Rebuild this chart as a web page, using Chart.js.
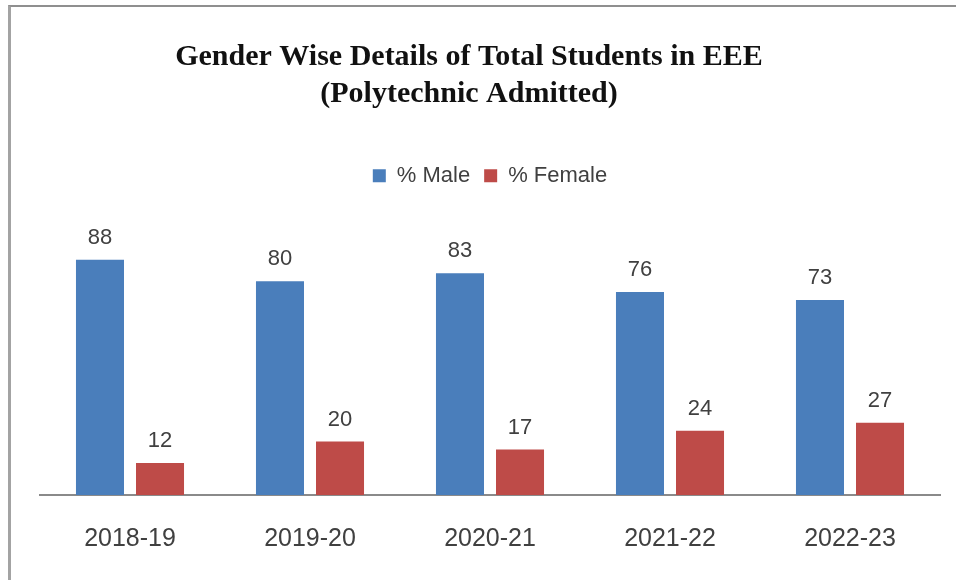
<!DOCTYPE html>
<html lang="en">
<head>
<meta charset="UTF-8">
<title>Gender Wise Details of Total Students in EEE</title>
<style>
  html, body { margin: 0; padding: 0; background: #fff; }
  .frame {
    position: relative;
    width: 956px;
    height: 580px;
  }
  .frame canvas { position: absolute; left: 0; top: 0; }
  .edge {
    position: absolute;
    left: 8px;
    top: 5px;
    right: 0;
    bottom: 0;
    border-top: 2px solid #8f8f8f;
    border-left: 3px solid #a3a3a3;
    pointer-events: none;
  }
</style>
</head>
<body>
<div class="frame">
  <canvas id="chart" width="956" height="580"></canvas>
  <div class="edge"></div>
</div>

<script src="https://cdn.jsdelivr.net/npm/chart.js"></script>
<script>
  const years = ['2018-19', '2019-20', '2020-21', '2021-22', '2022-23'];
  const malePct = [88, 80, 83, 76, 73];
  const femalePct = [12, 20, 17, 24, 27];

  // prints the value above each bar
  const valueLabels = {
    id: 'valueLabels',
    afterDatasetsDraw(chart) {
      const ctx = chart.ctx;
      ctx.save();
      ctx.font = '22px "Liberation Sans", Arial, sans-serif';
      ctx.fillStyle = '#404040';
      ctx.textAlign = 'center';
      ctx.textBaseline = 'alphabetic';
      chart.data.datasets.forEach((ds, i) => {
        chart.getDatasetMeta(i).data.forEach((bar, j) => {
          ctx.fillText(String(ds.data[j]), bar.x, bar.y - 16);
        });
      });
      ctx.restore();
    }
  };

  // extra room under the legend, and the title sits a bit left of centre
  const boxTweaks = {
    id: 'boxTweaks',
    beforeInit(chart) {
      const legend = chart.legend;
      const fit = legend.fit;
      legend.fit = function () {
        fit.call(this);
        this.height += 31;
      };
    },
    afterLayout(chart) {
      chart.titleBlock.left -= 21;
      chart.titleBlock.right -= 21;
    }
  };

  new Chart(document.getElementById('chart'), {
    type: 'bar',
    data: {
      labels: years,
      datasets: [
        {
          label: '% Male',
          data: malePct,
          backgroundColor: '#4a7ebb'
        },
        {
          label: '% Female',
          data: femalePct,
          backgroundColor: '#be4b48'
        }
      ]
    },
    options: {
      responsive: false,
      animation: false,
      layout: { padding: { left: 40, right: 16, top: 0, bottom: 5 } },
      datasets: {
        bar: { categoryPercentage: 0.667, barPercentage: 0.8 }
      },
      plugins: {
        title: {
          display: true,
          text: ['Gender Wise Details of Total Students in EEE', '(Polytechnic Admitted)'],
          color: '#111',
          font: { family: '"Liberation Serif", serif', size: 30, weight: 'bold', lineHeight: 1.23 },
          padding: { top: 39, bottom: 38 }
        },
        legend: {
          position: 'top',
          labels: {
            color: '#404040',
            font: { family: '"Liberation Sans", Arial, sans-serif', size: 22 },
            boxWidth: 13,
            boxHeight: 13,
            padding: 14
          }
        },
        tooltip: { enabled: false }
      },
      scales: {
        x: {
          grid: { display: false },
          border: { display: true, color: '#8a8a8a', width: 2 },
          ticks: {
            color: '#404040',
            font: { family: '"Liberation Sans", Arial, sans-serif', size: 25 },
            padding: 21
          }
        },
        y: {
          display: false,
          min: 0,
          max: 100
        }
      }
    },
    plugins: [valueLabels, boxTweaks]
  });
</script>
</body>
</html>
